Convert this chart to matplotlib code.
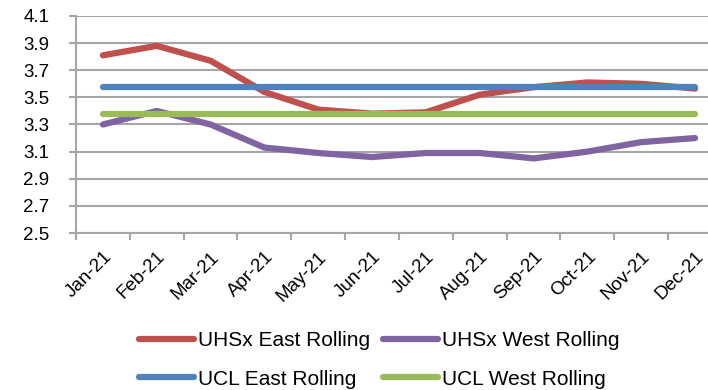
import matplotlib
matplotlib.use("Agg")
import matplotlib.pyplot as plt
from matplotlib.ticker import FixedLocator
import numpy as np

plt.rcParams['font.family'] = ['Liberation Sans', 'DejaVu Sans']

months = ['Jan-21', 'Feb-21', 'Mar-21', 'Apr-21', 'May-21', 'Jun-21',
          'Jul-21', 'Aug-21', 'Sep-21', 'Oct-21', 'Nov-21', 'Dec-21']
uhsx_east = [3.81, 3.88, 3.77, 3.54, 3.41, 3.38, 3.39, 3.52, 3.575, 3.61, 3.60, 3.565]
uhsx_west = [3.30, 3.40, 3.30, 3.13, 3.09, 3.06, 3.09, 3.09, 3.05, 3.10, 3.17, 3.20]
ucl_east = [3.58] * 12
ucl_west = [3.375] * 12
yticks = [2.5, 2.7, 2.9, 3.1, 3.3, 3.5, 3.7, 3.9, 4.1]

red = '#C0504D'
purple = '#8064A2'
blue = '#4F81BD'
green = '#9BBB59'
grid_col = '#A6A6A6'

fig = plt.figure(figsize=(7.08, 3.9), dpi=100)
W, H = 708, 390
ax = fig.add_axes([76 / W, 1 - 233 / H, (708 - 76) / W, (233 - 16) / H])

x = np.arange(len(months))
lw = 4.5
l1, = ax.plot(x, uhsx_east, color=red, lw=lw, solid_capstyle='round', solid_joinstyle='round', zorder=3)
l2, = ax.plot(x, uhsx_west, color=purple, lw=lw, solid_capstyle='round', solid_joinstyle='round', zorder=3)
l3, = ax.plot(x, ucl_east, color=blue, lw=lw, solid_capstyle='round', zorder=4)
l4, = ax.plot(x, ucl_west, color=green, lw=lw, solid_capstyle='round', zorder=4)

ax.set_xlim(-0.5, 11.24)
ax.set_ylim(2.5, 4.1)
ax.set_yticks(yticks)
ax.set_yticklabels([f'{v:.1f}' for v in yticks])
ax.grid(axis='y', color=grid_col, lw=1.5)
ax.set_axisbelow(True)

# category labels at centres, tick marks on the boundaries
ax.set_xticks(x)
ax.set_xticklabels(months, rotation=45, ha='right', va='top', rotation_mode='anchor')
ax.xaxis.set_minor_locator(FixedLocator(np.arange(-0.5, 11.5, 1.0)))
ax.tick_params(axis='x', which='major', length=0, pad=11, labelsize=13.5)
ax.tick_params(axis='x', which='minor', length=5, width=1.5, color=grid_col)
ax.tick_params(axis='y', length=5, width=1.5, color=grid_col, pad=14, labelsize=13.5)

for s in ['top', 'right']:
    ax.spines[s].set_visible(False)
for s in ['left', 'bottom']:
    ax.spines[s].set_color(grid_col)
    ax.spines[s].set_linewidth(1.5)

# two rows: UHSx pair on top, UCL pair below (legend fills column-wise)
handles = [l1, l3, l2, l4]
labels = ['UHSx East Rolling', 'UCL East Rolling', 'UHSx West Rolling', 'UCL West Rolling']
fig.legend(handles, labels, ncol=2, loc='upper left', bbox_to_anchor=(139 / W, 1 - 331 / H),
           frameon=False, fontsize=15, handlelength=2.64, handletextpad=0.2,
           columnspacing=0.6, labelspacing=0.95, borderpad=0, borderaxespad=0)

fig.savefig('out.png', dpi=100)
